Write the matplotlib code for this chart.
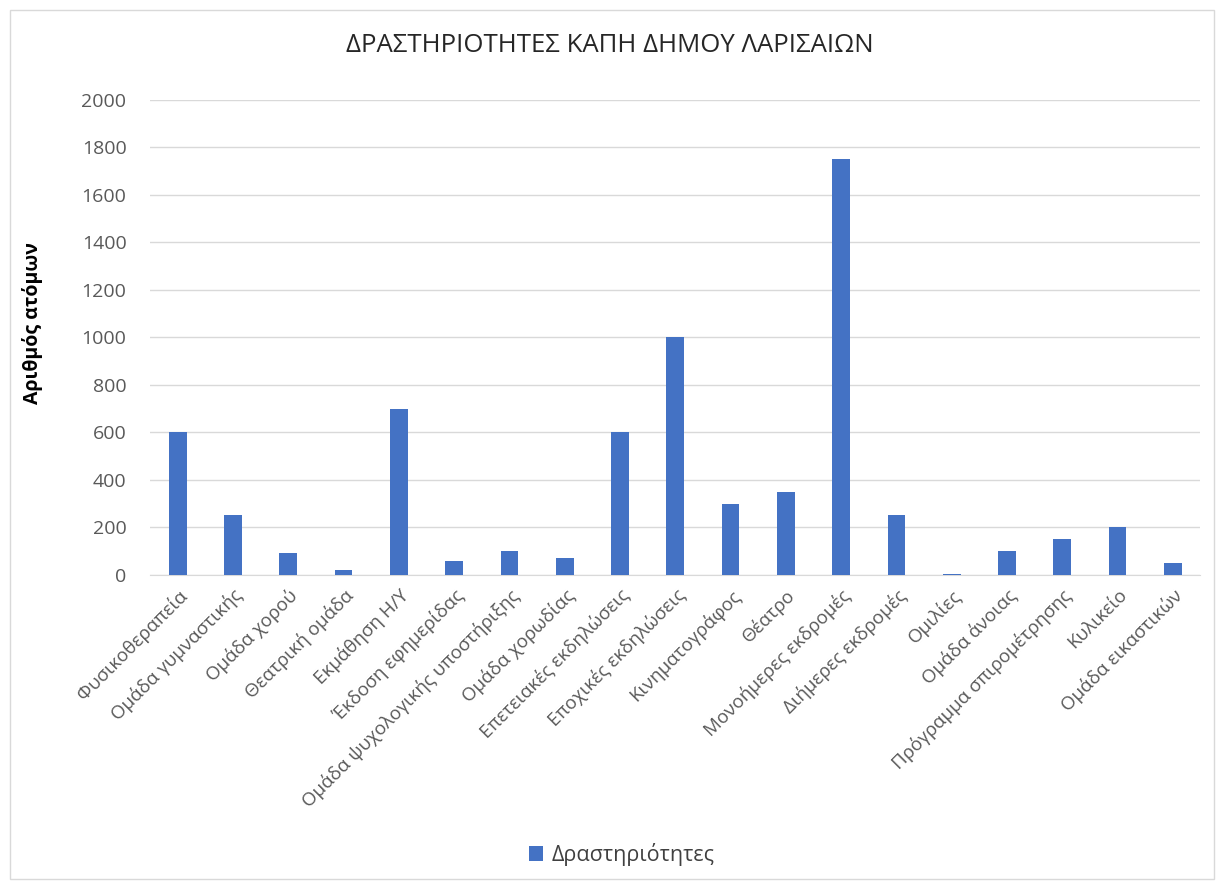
import numpy as np
import matplotlib.pyplot as plt
from matplotlib.patches import Rectangle

plt.rcParams['font.family'] = ['Open Sans', 'DejaVu Sans']

# activities and number of people
activities = ['Φυσικοθεραπεία', 'Ομάδα γυμναστικής', 'Ομάδα χορού', 'Θεατρική ομάδα',
              'Εκμάθηση Η/Υ', 'Έκδοση εφημερίδας', 'Ομάδα ψυχολογικής υποστήριξης',
              'Ομάδα χορωδίας', 'Επετειακές εκδηλώσεις', 'Εποχικές εκδηλώσεις',
              'Κινηματογράφος', 'Θέατρο', 'Μονοήμερες εκδρομές', 'Διήμερες εκδρομές',
              'Ομιλίες', 'Ομάδα άνοιας', 'Πρόγραμμα σπιρομέτρησης', 'Κυλικείο',
              'Ομάδα εικαστικών']
people = [600, 250, 90, 20, 700, 60, 100, 70, 600, 1000, 300, 350, 1750, 250, 5, 100, 150, 200, 50]
yticks = [0, 200, 400, 600, 800, 1000, 1200, 1400, 1600, 1800, 2000]

fig = plt.figure(figsize=(12.2, 8.83), dpi=100)
ax = fig.add_axes([0.123, 0.349, 0.861, 0.538])

x = np.arange(len(activities))
ax.bar(x, people, width=0.32, color='#4472C4', label='Δραστηριότητες', zorder=3)

ax.set_xlim(-0.5, len(activities) - 0.5)
ax.set_ylim(0, 2000)
ax.set_yticks(yticks)
ax.set_xticks(x)
ax.set_xticklabels(activities, rotation=45, ha='right', rotation_mode='anchor',
                   fontsize=13.5, color='#595959')
ax.tick_params(axis='y', labelsize=14, labelcolor='#595959', length=0, pad=17)
ax.tick_params(axis='x', length=0, pad=8)
ax.grid(axis='y', color='#d9d9d9', linewidth=1, zorder=0)
for s in ['top', 'right', 'left']:
    ax.spines[s].set_visible(False)
ax.spines['bottom'].set_color('#d9d9d9')

ax.set_ylabel('Αριθμός ατόμων', fontsize=14, fontweight='bold', color='#000000')
ax.yaxis.set_label_coords(-0.102, 0.53)
fig.text(0.5, 0.949, 'ΔΡΑΣΤΗΡΙΟΤΗΤΕΣ ΚΑΠΗ ΔΗΜΟΥ ΛΑΡΙΣΑΙΩΝ', ha='center', va='center',
         fontsize=18.5, color='#262626')

fig.legend(loc='center', bbox_to_anchor=(0.51, 0.032), frameon=False, fontsize=15.5,
           labelcolor='#404040', handlelength=0.65, handleheight=0.65, handletextpad=0.4)

fig.patches.append(Rectangle((0.008, 0.004), 0.987, 0.985, transform=fig.transFigure,
                             fill=False, edgecolor='#d9d9d9', linewidth=1))

fig.savefig('out.png', dpi=100)
